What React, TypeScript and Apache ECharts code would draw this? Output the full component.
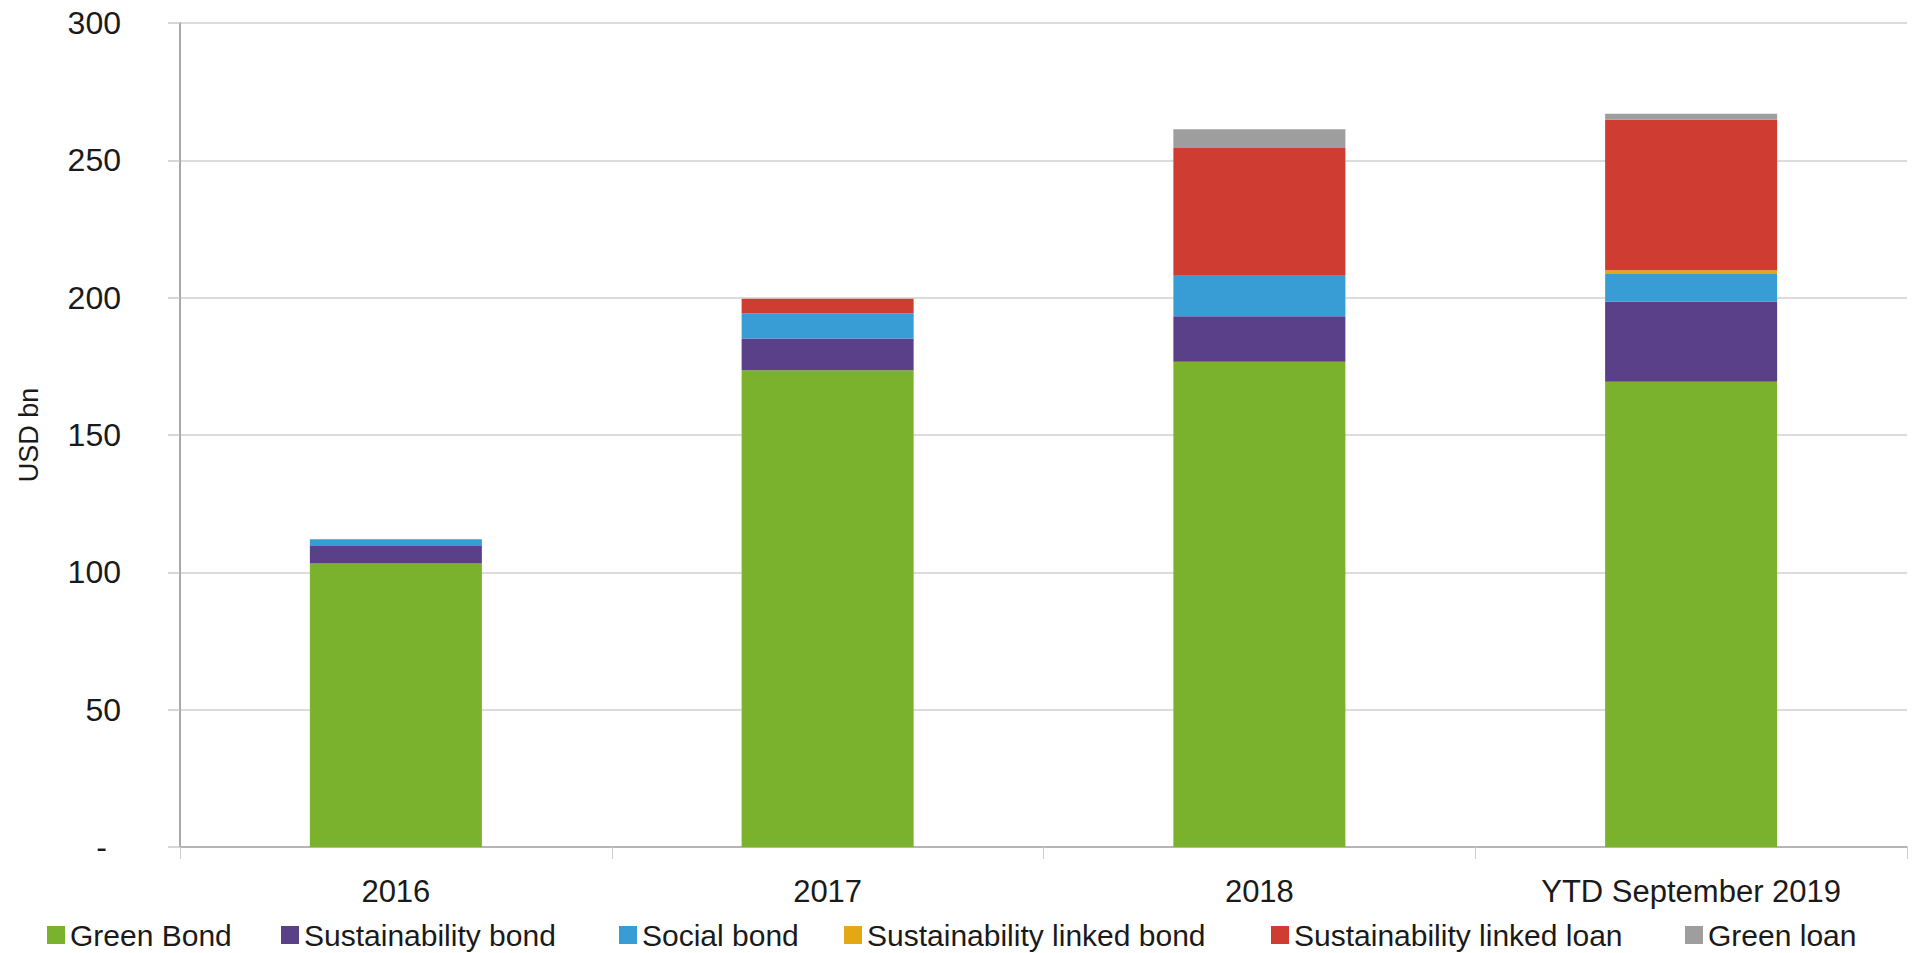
import React, { useEffect, useRef } from "react";
import * as echarts from "echarts";

const categories = ["2016", "2017", "2018", "YTD September 2019"];
const seriesNames = [
  "Green Bond",
  "Sustainability bond",
  "Social bond",
  "Sustainability linked bond",
  "Sustainability linked loan",
  "Green loan",
];
const greenBond = [103.2, 173.6, 176.7, 169.4];
const sustainabilityBond = [6.4, 11.5, 16.5, 29.2];
const socialBond = [2.4, 9.2, 14.8, 10.0];
const sustainabilityLinkedBond = [0, 0, 0, 1.4];
const sustainabilityLinkedLoan = [0, 5.3, 46.5, 54.8];
const greenLoan = [0, 0, 6.8, 2.2];
const seriesValues = [
  greenBond,
  sustainabilityBond,
  socialBond,
  sustainabilityLinkedBond,
  sustainabilityLinkedLoan,
  greenLoan,
];
const colors = ["#7AB22E", "#5A4089", "#389CD5", "#E3A814", "#CE3C32", "#9E9E9E"];
const legendLeft = [47, 281, 619, 844, 1271, 1685];

const FONT = "'Liberation Sans', Arial, sans-serif";

export default function App() {
  const ref = useRef<HTMLDivElement>(null);
  useEffect(() => {
    const chart = echarts.init(ref.current!, null, { renderer: "svg" });
    chart.setOption({
      animation: false,
      textStyle: { fontFamily: FONT },
      grid: { left: 180, right: 6, top: 23, bottom: 106, containLabel: false },
      legend: seriesNames.map((n, i) => ({
        data: [n],
        left: legendLeft[i],
        top: 920,
        padding: 0,
        itemWidth: 18,
        itemHeight: 18,
        icon: "rect",
        selectedMode: false,
        textStyle: { fontSize: 30, color: "#1a1a1a", fontFamily: FONT },
      })),
      xAxis: {
        type: "category",
        data: categories,
        axisLine: { show: true, lineStyle: { color: "#a8a8a8", width: 1.5 } },
        axisTick: { show: true, length: 12, lineStyle: { color: "#cccccc" } },
        axisLabel: { fontSize: 31, color: "#1a1a1a", margin: 29, fontFamily: FONT },
      },
      yAxis: {
        type: "value",
        min: 0,
        max: 300,
        interval: 50,
        name: "USD bn",
        nameLocation: "middle",
        nameGap: 138,
        nameTextStyle: { fontSize: 27, color: "#1a1a1a", fontFamily: FONT },
        axisLine: { show: true, lineStyle: { color: "#8c8c8c", width: 1.5 } },
        axisTick: { show: true, length: 12, lineStyle: { color: "#c8c8c8", width: 1.5 } },
        splitLine: { show: true, lineStyle: { color: "#d0d0d0", width: 1.5 } },
        axisLabel: {
          fontSize: 32,
          color: "#1a1a1a",
          margin: 59,
          fontFamily: FONT,
          formatter: (v: number) => (v === 0 ? "{d|-}" : String(v)),
          rich: { d: { fontSize: 32, padding: [0, 14, 0, 0], color: "#1a1a1a" } },
        },
      },
      series: seriesNames.map((n, i) => ({
        name: n,
        type: "bar",
        stack: "total",
        barWidth: 172,
        itemStyle: { color: colors[i] },
        data: seriesValues[i],
      })),
    });
    return () => chart.dispose();
  }, []);
  return (
    <div
      ref={ref}
      style={{ position: "fixed", left: 0, top: 0, width: 1913, height: 953, background: "#fff" }}
    />
  );
}
